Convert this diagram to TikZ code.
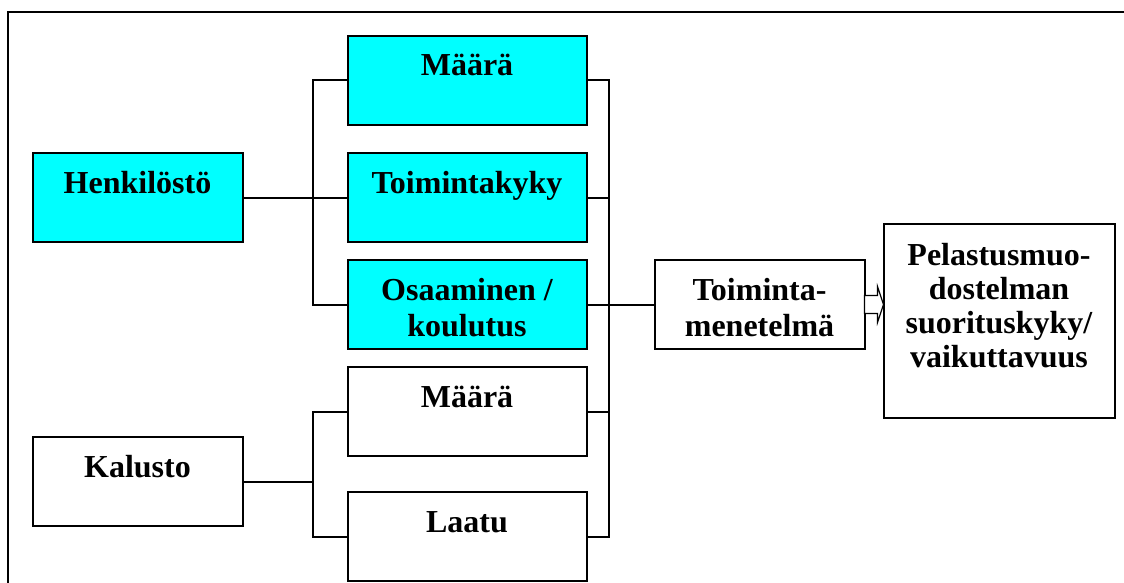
\documentclass[tikz,border=0pt]{standalone}
\usepackage{fontspec}
\setmainfont{Liberation Serif}
\usetikzlibrary{positioning}
\definecolor{aqua}{RGB}{0,255,255}

\begin{document}
\begin{tikzpicture}[
  x=1pt, y=-1pt,
  line width=2pt,
  box/.style={draw, rectangle, inner sep=0pt, outer sep=0pt, align=center, text height=40pt, text depth=49pt,
    font=\bfseries\fontsize{32}{36}\selectfont},
  filled/.style={box, fill=aqua},
  two/.style={text height=76pt, text depth=13pt},
  side/.style={minimum width=210pt},
  wide/.style={minimum width=239pt},
  ]
  \useasboundingbox (0,0) rectangle (1124,583);
  \draw (1124,12) -- (8,12) -- (8,583);

  \node[filled, side] (hen) at (137.5,197.5) {Henkilöstö};
  \node[filled, wide, right = 105pt of hen] (tk) {Toimintakyky};
  \node[filled, wide, above = 28pt of tk] (m1) {Määrä};
  \node[filled, wide, two, below = 18pt of tk] (osa) {Osaaminen /\\koulutus};
  \node[box, wide, below = 18pt of osa] (m2) {Määrä};
  \node[box, wide, below = 36pt of m2] (lt) {Laatu};
  \node[box, side, below = 195pt of hen] (kal) {Kalusto};
  \node[box, side, two, right = 68pt of osa] (tm) {Toiminta-\\menetelmä};
  \node[box, minimum width=231pt, text height=144pt, text depth=50pt,
    font=\bfseries\fontsize{32}{34}\selectfont, right = 19pt of tm, yshift=-16pt] (pel)
    {Pelastusmuo-\\dostelman\\suorituskyky/\\vaikuttavuus};

  \draw (hen) -- (tk);
  \draw (m1.west) -- ++(-35,0) |- (osa.west);
  \draw (m2.west) -- ++(-35,0) coordinate (lb) |- (lt.west);
  \draw (kal) -- (kal -| lb);
  \draw (m1.east) -- ++(22,0) coordinate (rb) |- (lt.east);
  \draw (tk) -- (tk -| rb);
  \draw (m2) -- (m2 -| rb);
  \draw (osa) -- (tm);
  \draw[line width=1.2pt, fill=white] (tm.east) ++(0,-9) -- ++(13,0) -- ++(0,-9) -- (pel.west |- tm.east)
    -- ++(-6,18) -- ++(0,-9) -- ++(-13,0) -- cycle;

\end{tikzpicture}
\end{document}
